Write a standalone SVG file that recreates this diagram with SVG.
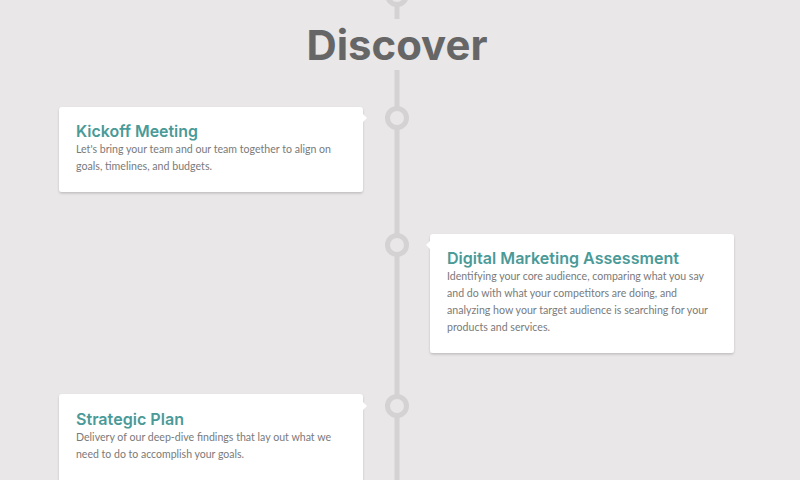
<svg xmlns="http://www.w3.org/2000/svg" width="800" height="480" viewBox="0 0 800 480">
  <defs>
    <filter id="sh" x="-5%" y="-10%" width="110%" height="125%">
      <feDropShadow dx="0" dy="1.5" stdDeviation="1.2" flood-color="#000" flood-opacity="0.18"/>
    </filter>
    <style>
      .bg{fill:#e9e7e8}
      .line{stroke:#d4d2d3;stroke-width:5;fill:none}
      .dot{fill:#e9e7e8;stroke:#d4d2d3;stroke-width:5}
      .card{fill:#ffffff;filter:url(#sh)}
      .title{font-family:"Inter","Open Sans","DejaVu Sans",sans-serif;font-weight:700;font-size:41px;fill:#666666}
      .ct{font-family:"Inter","Open Sans","DejaVu Sans",sans-serif;font-weight:600;font-size:16.5px;fill:#4a9a98}
      .cb{font-family:"Lato","Noto Sans","DejaVu Sans",sans-serif;font-size:12px;fill:#7a7a7a}
    </style>
  </defs>
  <rect class="bg" x="0" y="0" width="800" height="480"/>

  <g id="connectors">
    <line class="line" x1="397" y1="0" x2="397" y2="19"/>
    <line class="line" x1="397" y1="70" x2="397" y2="480"/>
    <circle class="dot" cx="397" cy="-5" r="9.5"/>
    <circle class="dot" cx="397" cy="118" r="9.5"/>
    <circle class="dot" cx="397" cy="245" r="9.5"/>
    <circle class="dot" cx="397" cy="406" r="9.5"/>
  </g>

  <g id="title">
    <text class="title" x="397" y="60" text-anchor="middle" textLength="181" lengthAdjust="spacingAndGlyphs">Discover</text>
  </g>

  <g id="kickoff">
    <rect class="card" x="59" y="107" width="304" height="85" rx="3"/>
    <polygon points="362,113 367,118 362,123" fill="#ffffff"/>
    <text class="ct" x="76" y="137" textLength="122" lengthAdjust="spacingAndGlyphs">Kickoff Meeting</text>
    <text class="cb" x="76" y="153" textLength="255" lengthAdjust="spacingAndGlyphs">Let's bring your team and our team together to align on</text>
    <text class="cb" x="76" y="170" textLength="136" lengthAdjust="spacingAndGlyphs">goals, timelines, and budgets.</text>
  </g>

  <g id="assessment">
    <rect class="card" x="430" y="234" width="304" height="119" rx="3"/>
    <polygon points="431,240 426,245 431,250" fill="#ffffff"/>
    <text class="ct" x="447" y="264" textLength="232" lengthAdjust="spacingAndGlyphs">Digital Marketing Assessment</text>
    <text class="cb" x="447" y="280" textLength="257" lengthAdjust="spacingAndGlyphs">Identifying your core audience, comparing what you say</text>
    <text class="cb" x="447" y="297" textLength="230" lengthAdjust="spacingAndGlyphs">and do with what your competitors are doing, and</text>
    <text class="cb" x="447" y="314" textLength="261" lengthAdjust="spacingAndGlyphs">analyzing how your target audience is searching for your</text>
    <text class="cb" x="447" y="331" textLength="103" lengthAdjust="spacingAndGlyphs">products and services.</text>
  </g>

  <g id="strategic">
    <rect class="card" x="59" y="394" width="304" height="92" rx="3"/>
    <polygon points="362,401 367,406 362,411" fill="#ffffff"/>
    <text class="ct" x="76" y="425" textLength="108" lengthAdjust="spacingAndGlyphs">Strategic Plan</text>
    <text class="cb" x="76" y="441" textLength="255" lengthAdjust="spacingAndGlyphs">Delivery of our deep-dive findings that lay out what we</text>
    <text class="cb" x="76" y="458" textLength="168" lengthAdjust="spacingAndGlyphs">need to do to accomplish your goals.</text>
  </g>
</svg>
